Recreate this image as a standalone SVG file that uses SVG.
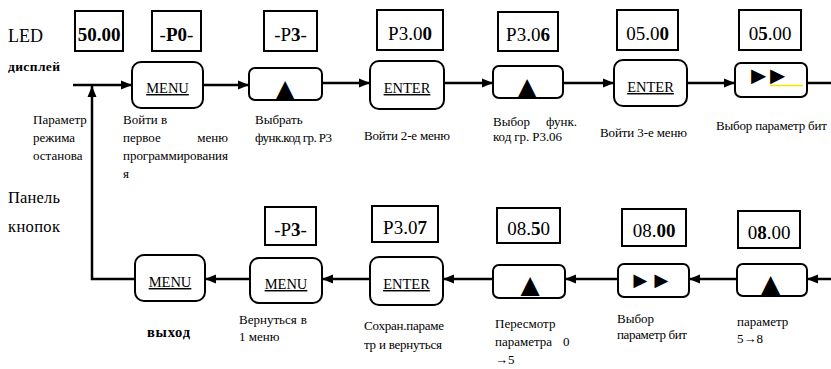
<svg xmlns="http://www.w3.org/2000/svg" width="831" height="369" viewBox="0 0 831 369">
  <style>
    text { font-family: "Liberation Serif", "Times New Roman", serif; fill: #000; }
    .disp { fill: #fff; stroke: #000; stroke-width: 2; }
    .btn { fill: #fff; stroke: #000; stroke-width: 2; }
    .dt { font-size: 19px; text-anchor: middle; }
    .b { font-weight: bold; }
    .key { font-size: 14.5px; text-anchor: middle; text-decoration: underline; }
    .tri { font-family: "DejaVu Sans", sans-serif; font-size: 25px; text-anchor: middle; }
    .ptr { font-family: "Noto Sans CJK SC", sans-serif; text-anchor: middle; }
    .lbl { font-size: 13px; }
    .wire { fill: none; stroke: #000; stroke-width: 2.5; }
    .arr { marker-end: url(#head); }
  </style>
  <defs>
    <marker id="head" markerUnits="userSpaceOnUse" markerWidth="12" markerHeight="10" refX="11" refY="5" orient="auto">
      <path d="M0,0.5 L11,5 L0,9.5 z" fill="#000"/>
    </marker>
  </defs>

  <rect width="831" height="369" fill="#fff"/>

  <!-- side captions -->
  <g id="captions">
    <text x="8" y="42" font-size="18">LED</text>
    <text class="b" x="8" y="71" font-size="13.5" textLength="52">дисплей</text>
    <text class="lbl" x="33" y="124">Параметр</text>
    <text class="lbl" x="33" y="142">режима</text>
    <text class="lbl" x="33" y="160">останова</text>
    <text x="8" y="203" font-size="16.5" textLength="52">Панель</text>
    <text x="8" y="232" font-size="16.5" textLength="52">кнопок</text>
  </g>

  <!-- connectors -->
  <g id="connectors">
    <path class="wire arr" d="M73,85 H132"/>
    <path class="wire arr" d="M135,279 H92 V86"/>
    <path class="wire arr" d="M203,85 H249"/>
    <path class="wire arr" d="M322,83 H370"/>
    <path class="wire arr" d="M444,83 H493"/>
    <path class="wire arr" d="M563,83 H614"/>
    <path class="wire arr" d="M687,83 H735"/>
    <path class="wire" d="M807,83 H831"/>
    <path class="wire arr" d="M831,279 H807"/>
    <path class="wire arr" d="M737,279 H689"/>
    <path class="wire arr" d="M618,279 H565"/>
    <path class="wire arr" d="M493,279 H443"/>
    <path class="wire arr" d="M370,279 H322"/>
    <path class="wire arr" d="M250,279 H205"/>
  </g>

  <!-- top row -->
  <g id="d-5000">
    <rect class="disp" x="75" y="11" width="48" height="40"/>
    <text class="dt b" x="99" y="41">50.00</text>
  </g>
  <g id="n-menu1">
    <rect class="disp" x="152" y="11" width="49" height="40"/>
    <text class="dt" x="176.5" y="41">-<tspan class="b">P0</tspan>-</text>
    <rect class="btn" x="132" y="62" width="71" height="46" rx="9"/>
    <text class="key" x="167.5" y="93">MENU</text>
    <text class="lbl" x="123" y="124">Войти в</text>
    <text class="lbl" x="123" y="142">первое</text>
    <text class="lbl" x="228" y="142" text-anchor="end">меню</text>
    <text class="lbl" x="123" y="160" textLength="105">программирования</text>
    <text class="lbl" x="123" y="178">я</text>
  </g>
  <g id="n-up1">
    <rect class="disp" x="264" y="11" width="53" height="40"/>
    <text class="dt" x="290.5" y="41">-P<tspan class="b">3</tspan>-</text>
    <rect class="btn" x="249" y="68" width="73" height="32" rx="6"/>
    <text class="tri" x="285" y="97">▲</text>
    <text class="lbl" x="255" y="124">Выбрать</text>
    <text class="lbl" x="255" y="142" textLength="77">функ.код гр. P3</text>
  </g>
  <g id="n-enter1">
    <rect class="disp" x="377" y="10" width="66" height="40"/>
    <text class="dt" x="410" y="40">P3.0<tspan class="b">0</tspan></text>
    <rect class="btn" x="370" y="61" width="74" height="48" rx="9"/>
    <text class="key" x="407" y="93">ENTER</text>
    <text class="lbl" x="364" y="140" textLength="86">Войти 2-е меню</text>
  </g>
  <g id="n-up2">
    <rect class="disp" x="498" y="12" width="60" height="39"/>
    <text class="dt" x="528" y="41">P3.0<tspan class="b">6</tspan></text>
    <rect class="btn" x="493" y="66" width="70" height="32" rx="6"/>
    <text class="tri" x="527" y="95">▲</text>
    <text class="lbl" x="493" y="126">Выбор</text>
    <text class="lbl" x="577" y="126" text-anchor="end">функ.</text>
    <text class="lbl" x="493" y="141" textLength="69">код гр. P3.06</text>
  </g>
  <g id="n-enter2">
    <rect class="disp" x="617" y="10" width="61" height="40"/>
    <text class="dt" x="647.5" y="40">05.0<tspan class="b">0</tspan></text>
    <rect class="btn" x="614" y="60" width="73" height="46" rx="9"/>
    <text class="key" x="650.5" y="92">ENTER</text>
    <text class="lbl" x="600" y="137" textLength="87">Войти 3-е меню</text>
  </g>
  <g id="n-shift1">
    <rect class="disp" x="739" y="10" width="62" height="40"/>
    <text class="dt" x="770" y="40">0<tspan class="b">5</tspan>.00</text>
    <rect class="btn" x="735" y="63" width="72" height="34" rx="6"/>
    <text class="ptr" x="758.5 777.5" y="84" font-size="25">►►</text>
    <line x1="770" y1="85.5" x2="803" y2="85.5" stroke="#f5e400" stroke-width="1.5"/>
    <text class="lbl" x="716" y="130" textLength="111">Выбор параметр бит</text>
  </g>

  <!-- bottom row -->
  <g id="n-up3">
    <rect class="disp" x="738" y="211" width="62" height="37"/>
    <text class="dt" x="769" y="239">0<tspan class="b">8</tspan>.00</text>
    <rect class="btn" x="737" y="264" width="70" height="32" rx="6"/>
    <text class="tri" x="770.5" y="292">▲</text>
    <text class="lbl" x="737" y="326">параметр</text>
    <text class="lbl" x="737" y="343">5→8</text>
  </g>
  <g id="n-shift2">
    <rect class="disp" x="622" y="209" width="64" height="37"/>
    <text class="dt" x="654" y="237">08.<tspan class="b">00</tspan></text>
    <rect class="btn" x="618" y="264" width="71" height="33" rx="6"/>
    <text class="ptr" x="640.5 661.5" y="288" font-size="23">►►</text>
    <text class="lbl" x="617" y="323">Выбор</text>
    <text class="lbl" x="617" y="339" textLength="70">параметр бит</text>
  </g>
  <g id="n-up4">
    <rect class="disp" x="497" y="208" width="63" height="35"/>
    <text class="dt" x="528.5" y="235">08.<tspan class="b">5</tspan>0</text>
    <rect class="btn" x="493" y="265" width="72" height="33" rx="6"/>
    <text class="tri" x="530" y="293">▲</text>
    <text class="lbl" x="495" y="328">Пересмотр</text>
    <text class="lbl" x="495" y="346">параметра</text>
    <text class="lbl" x="563" y="346">0</text>
    <text class="lbl" x="495" y="364">→5</text>
  </g>
  <g id="n-enter3">
    <rect class="disp" x="372" y="206" width="66" height="36"/>
    <text class="dt" x="405" y="234">P3.0<tspan class="b">7</tspan></text>
    <rect class="btn" x="370" y="257" width="73" height="48" rx="9"/>
    <text class="key" x="406.5" y="289">ENTER</text>
    <text class="lbl" x="364" y="330" textLength="80">Сохран.параме</text>
    <text class="lbl" x="364" y="349" textLength="78">тр и вернуться</text>
  </g>
  <g id="n-menu2">
    <rect class="disp" x="265" y="207" width="51" height="38"/>
    <text class="dt" x="290.5" y="236">-P<tspan class="b">3</tspan>-</text>
    <rect class="btn" x="250" y="258" width="72" height="45" rx="9"/>
    <text class="key" x="286" y="289">MENU</text>
    <text class="lbl" x="239" y="324">Вернуться</text>
    <text class="lbl" x="307" y="324" text-anchor="end">в</text>
    <text class="lbl" x="239" y="341">1 меню</text>
  </g>
  <g id="n-exit">
    <rect class="btn" x="135" y="255" width="70" height="46" rx="9"/>
    <text class="key" x="170" y="287">MENU</text>
    <text class="b" x="147" y="337" font-size="14.5" textLength="43">выход</text>
  </g>
</svg>
